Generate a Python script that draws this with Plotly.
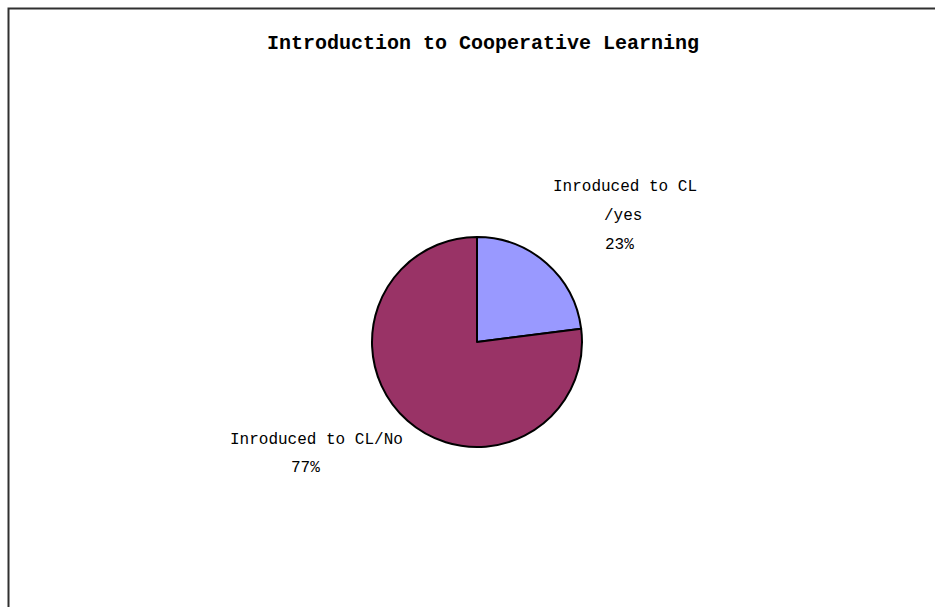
import plotly.graph_objects as go

# Survey answers: were respondents introduced to cooperative learning?
labels = ["Inroduced to CL /yes", "Inroduced to CL/No"]
values = [23, 77]
colors = ["#9999FF", "#993366"]
title_text = "Introduction to Cooperative Learning"

W, H = 935, 607
FONT = "Liberation Mono"


def px(x):
    return x / W


def py(y):
    return 1 - y / H


fig = go.Figure()

# pie centred at (477, 342) px with ~105 px radius
cx, cy, r = 477, 342, 105
fig.add_trace(go.Pie(
    labels=labels,
    values=values,
    sort=False,
    direction="clockwise",
    rotation=0,
    marker=dict(colors=colors, line=dict(color="#000000", width=2)),
    textinfo="none",
    hoverinfo="label+percent",
    showlegend=False,
    domain=dict(x=[px(cx - r), px(cx + r)], y=[py(cy + r), py(cy - r)]),
))

total = sum(values)
pct = [f"{round(v * 100 / total)}%" for v in values]

annotations = []


def add_text(text, x, y, size=16, bold=False):
    annotations.append(dict(
        text=f"<b>{text}</b>" if bold else text,
        x=px(x), y=py(y), xref="paper", yref="paper",
        xanchor="center", yanchor="middle", showarrow=False,
        font=dict(family=FONT, size=size, color="#000000"),
    ))


# title
add_text(title_text, 483, 43, size=20, bold=True)

# "yes" slice label, split over two lines plus percentage
yes_parts = labels[0].split(" /")
add_text(yes_parts[0], 625, 187)
add_text("/" + yes_parts[1], 623, 216)
add_text(pct[0], 619, 245)

# "No" slice label plus percentage
add_text(labels[1], 316, 440)
add_text(pct[1], 305, 468)

fig.update_layout(
    width=W, height=H,
    margin=dict(l=0, r=0, t=0, b=0),
    paper_bgcolor="#FFFFFF",
    plot_bgcolor="#FFFFFF",
    annotations=annotations,
    shapes=[dict(
        type="rect", xref="paper", yref="paper",
        x0=px(8.5), x1=1.02, y0=-0.02, y1=py(8.5),
        line=dict(color="#303030", width=2),
        fillcolor="rgba(0,0,0,0)",
    )],
)

fig.write_html("out.html")
